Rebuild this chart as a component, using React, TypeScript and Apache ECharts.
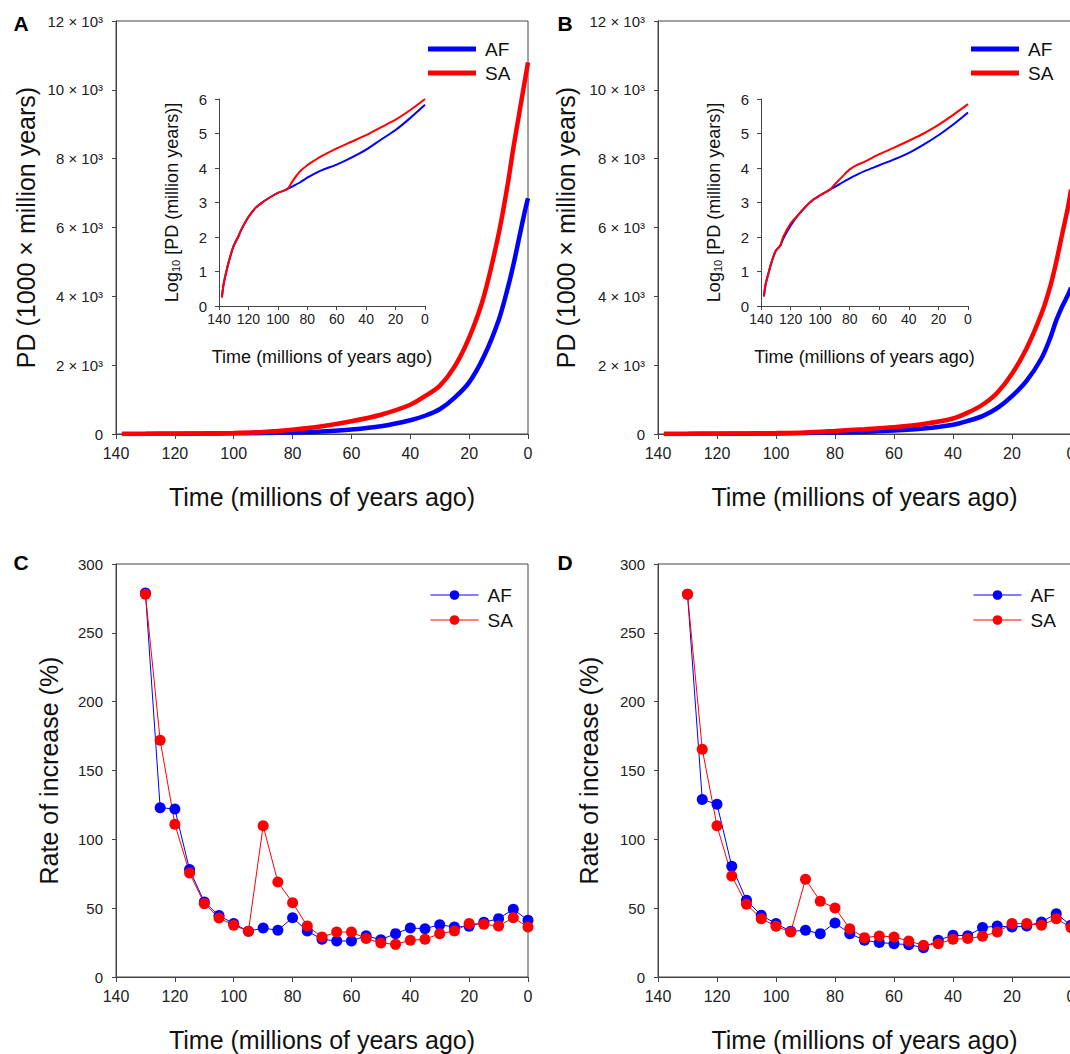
import React, { useEffect, useRef } from "react";
import * as echarts from "echarts";

// ---------- DATA ----------
// Panels A/B main: PD (1000 x million years) vs time (Ma)
const PD_TIME = [138, 130, 120, 110, 100, 90, 80, 70, 60, 50, 40, 35, 30, 25, 20, 15, 10, 7, 5, 3, 1, 0];
const PD_A_AF = [1, 3, 6, 12, 20, 28, 45, 75, 130, 225, 400, 530, 720, 1050, 1500, 2250, 3300, 4200, 4900, 5700, 6500, 6850];
const PD_A_SA = [2, 5, 10, 18, 30, 60, 125, 225, 370, 560, 850, 1100, 1400, 1950, 2800, 4000, 5800, 7200, 8300, 9300, 10300, 10800];
const PD_B_AF = [1, 3, 6, 10, 16, 28, 45, 65, 100, 160, 270, 380, 520, 750, 1100, 1550, 2200, 2800, 3300, 3700, 4050, 4250];
const PD_B_SA = [2, 4, 8, 15, 25, 45, 90, 140, 200, 290, 450, 620, 850, 1200, 1750, 2500, 3500, 4300, 5000, 5800, 6600, 7100];

// Insets: log10 PD (million years)
const LOG_TIME = [138, 137, 135, 133, 130, 127, 125, 120, 115, 110, 105, 100, 95, 93, 90, 85, 80, 75, 70, 60, 50, 40, 30, 20, 10, 0];
const LOG_A_AF = [0.25, 0.6, 1.0, 1.33, 1.75, 2.0, 2.2, 2.58, 2.85, 3.02, 3.16, 3.28, 3.36, 3.41, 3.47, 3.58, 3.72, 3.84, 3.94, 4.1, 4.3, 4.53, 4.82, 5.1, 5.45, 5.83];
const LOG_A_SA = [0.25, 0.6, 1.0, 1.35, 1.75, 2.0, 2.2, 2.58, 2.85, 3.02, 3.16, 3.28, 3.36, 3.41, 3.62, 3.9, 4.08, 4.22, 4.35, 4.57, 4.76, 4.95, 5.18, 5.4, 5.68, 6.0];
const LOG_B_AF = [0.28, 0.6, 0.94, 1.25, 1.6, 1.75, 1.95, 2.33, 2.63, 2.87, 3.07, 3.21, 3.33, 3.39, 3.45, 3.58, 3.7, 3.81, 3.91, 4.08, 4.25, 4.44, 4.68, 4.95, 5.26, 5.61];
const LOG_B_SA = [0.28, 0.6, 0.94, 1.25, 1.6, 1.75, 2.0, 2.39, 2.63, 2.87, 3.07, 3.21, 3.33, 3.39, 3.53, 3.75, 3.96, 4.09, 4.18, 4.4, 4.59, 4.79, 5.0, 5.25, 5.54, 5.85];

// Panels C/D: rate of increase (%)
const RATE_TIME = [130, 125, 120, 115, 110, 105, 100, 95, 90, 85, 80, 75, 70, 65, 60, 55, 50, 45, 40, 35, 30, 25, 20, 15, 10, 5, 0];
const RATE_C_AF = [279, 123, 122, 78, 54.5, 44.6, 38.8, 33.2, 35.6, 33.9, 43.1, 33.4, 27.4, 26.2, 26.2, 30, 27.1, 31.5, 35.6, 35.1, 38, 36.3, 36.8, 39.7, 42.4, 49.2, 41.2];
const RATE_C_SA = [278, 172, 111, 75.6, 53.3, 42.9, 37.6, 33.2, 109.8, 69, 54, 37, 29, 32.7, 32.7, 27.9, 24.7, 23.7, 26.7, 27.4, 31.5, 33.4, 38.8, 38.3, 37, 43.1, 36.3];
const RATE_D_AF = [278, 128.9, 125.5, 80.5, 55.7, 44.8, 38.8, 33.2, 33.9, 31.5, 39.3, 31.5, 26.7, 25, 24.2, 23.5, 21.3, 26.7, 30.3, 30, 35.9, 37, 36.3, 37, 40, 46, 37.5];
const RATE_D_SA = [278, 165.5, 109.8, 73.4, 52.8, 42.4, 36.8, 32.7, 71, 55, 50.2, 35.1, 28.6, 29.8, 29.1, 26.2, 23, 24.2, 27.4, 27.9, 29.6, 32.7, 38.8, 38.8, 37.6, 42.4, 35.9];

const SERIES_NAMES = ["AF", "SA"];
const PANEL_LETTERS = ["A", "B", "C", "D"];
const X_TITLE = "Time (millions of years ago)";
const PD_TITLE = "PD (1000 \u00d7 million years)";
const RATE_TITLE = "Rate of increase (%)";
const LOG_TITLE = "Log{sub|10} [PD (million years)]";

// ---------- STYLE ----------
const FONT = "'Liberation Sans', Arial, Helvetica, sans-serif";
const BLUE = "#0000ff";
const RED = "#ff0000";
const AXIS = "#444";
const TXT = "#222";

const pairs = (t: number[], v: number[]) => t.map((x, i) => [x, v[i]]);

function xAxisCfg(gridIndex: number, inset: boolean) {
  return {
    type: "value",
    gridIndex,
    min: 0,
    max: 140,
    interval: 20,
    inverse: true,
    name: X_TITLE,
    nameLocation: "middle",
    nameGap: inset ? 42 : 50,
    nameTextStyle: { fontFamily: FONT, fontSize: inset ? 18 : 25, color: "#111" },
    axisLine: { show: true, onZero: false, lineStyle: { color: AXIS, width: 1 } },
    axisTick: { show: true, inside: false, length: inset ? 4 : 5, lineStyle: { color: AXIS } },
    axisLabel: { fontFamily: FONT, fontSize: inset ? 14 : 16, color: TXT, margin: inset ? 6 : 11 },
    splitLine: { show: false },
  };
}

function yAxisCfg(gridIndex: number, kind: "pd" | "log" | "rate", nameGap: number) {
  const base: any = {
    type: "value",
    gridIndex,
    nameLocation: "middle",
    nameGap,
    nameRotate: 90,
    axisLine: { show: true, onZero: false, lineStyle: { color: AXIS, width: 1 } },
    axisTick: { show: true, inside: false, length: 4, lineStyle: { color: AXIS } },
    splitLine: { show: false },
  };
  if (kind === "pd") {
    return {
      ...base,
      min: 0,
      max: 12000,
      interval: 2000,
      name: PD_TITLE,
      nameTextStyle: { fontFamily: FONT, fontSize: 25, color: "#111" },
      axisLabel: {
        fontFamily: FONT,
        fontSize: 15,
        color: TXT,
        margin: 13,
        formatter: (v: number) => (v === 0 ? "0" : `${v / 1000} \u00d7 10\u00b3`),
      },
    };
  }
  if (kind === "log") {
    return {
      ...base,
      min: 0,
      max: 6,
      interval: 1,
      name: LOG_TITLE,
      nameTextStyle: {
        fontFamily: FONT,
        fontSize: 18,
        color: "#111",
        rich: { sub: { fontFamily: FONT, fontSize: 11, color: "#111", verticalAlign: "bottom", padding: [6, 0, 0, 0] } },
      },
      axisLabel: { fontFamily: FONT, fontSize: 15, color: TXT, margin: 12 },
    };
  }
  return {
    ...base,
    min: 0,
    max: 300,
    interval: 50,
    name: RATE_TITLE,
    nameTextStyle: { fontFamily: FONT, fontSize: 25, color: "#111" },
    axisLabel: { fontFamily: FONT, fontSize: 15, color: TXT, margin: 13 },
  };
}

function legendCfg(left: number, top: number, lineOnly: boolean) {
  const cfg: any = {
    orient: "vertical",
    left,
    top,
    padding: 0,
    itemWidth: 48,
    itemHeight: lineOnly ? 5 : 12,
    itemGap: lineOnly ? 5 : 6,
    selectedMode: false,
    data: SERIES_NAMES,
    textStyle: { fontFamily: FONT, fontSize: 19, color: "#111", padding: [0, 0, 0, 4] },
    lineStyle: { width: 1 },
  };
  if (lineOnly) cfg.icon = "rect";
  return cfg;
}

function rateSeries(name: string, color: string, xi: number, data: number[]) {
  return {
    type: "line",
    name,
    xAxisIndex: xi,
    yAxisIndex: xi,
    data: pairs(RATE_TIME, data),
    symbol: "circle",
    symbolSize: 11,
    showSymbol: true,
    lineStyle: { color, width: 1 },
    itemStyle: { color },
    clip: false,
    z: 3,
  };
}

function curveSeries(name: string, color: string, xi: number, t: number[], data: number[], width: number) {
  return {
    type: "line",
    name,
    xAxisIndex: xi,
    yAxisIndex: xi,
    data: pairs(t, data),
    symbol: "none",
    smooth: 0.3,
    lineStyle: { color, width },
    itemStyle: { color },
    z: 3,
  };
}

// Panel geometry (px)
const MAIN_W = 412;
const MAIN_H = 413;
const COL_X = [116, 658];
const ROW_Y = [21, 564];
const INSET_DX = 103;
const INSET_DY = 78;
const INSET_W = 206;
const INSET_H = 207;

export default function App() {
  const ref = useRef<HTMLDivElement>(null);

  useEffect(() => {
    if (!ref.current) return;
    const chart = echarts.init(ref.current, undefined, { renderer: "svg" });

    const g = (left: number, top: number, width: number, height: number, box: boolean) => ({
      left,
      top,
      width,
      height,
      show: box,
      borderColor: AXIS,
      borderWidth: 1,
      containLabel: false,
      outerBoundsMode: "none",
    });

    const grids = [
      // 0: A main, 1: A inset, 2: B main, 3: B inset, 4: C, 5: D
      g(COL_X[0], ROW_Y[0], MAIN_W, MAIN_H, true),
      g(COL_X[0] + INSET_DX, ROW_Y[0] + INSET_DY, INSET_W, INSET_H, false),
      g(COL_X[1], ROW_Y[0], MAIN_W + 1, MAIN_H, true),
      g(COL_X[1] + INSET_DX, ROW_Y[0] + INSET_DY, INSET_W + 1, INSET_H, false),
      g(COL_X[0], ROW_Y[1], MAIN_W, MAIN_H, true),
      g(COL_X[1], ROW_Y[1], MAIN_W + 1, MAIN_H, true),
    ];

    const xAxes = [
      xAxisCfg(0, false),
      xAxisCfg(1, true),
      xAxisCfg(2, false),
      xAxisCfg(3, true),
      xAxisCfg(4, false),
      xAxisCfg(5, false),
    ];
    const yAxes = [
      yAxisCfg(0, "pd", 78),
      yAxisCfg(1, "log", 38),
      yAxisCfg(2, "pd", 80),
      yAxisCfg(3, "log", 38),
      yAxisCfg(4, "rate", 55),
      yAxisCfg(5, "rate", 57),
    ];

    const series = [
      rateSeries("AF", BLUE, 4, RATE_C_AF),
      rateSeries("SA", RED, 4, RATE_C_SA),
      rateSeries("AF", BLUE, 5, RATE_D_AF),
      rateSeries("SA", RED, 5, RATE_D_SA),
      curveSeries("AF", BLUE, 0, PD_TIME, PD_A_AF, 4.5),
      curveSeries("SA", RED, 0, PD_TIME, PD_A_SA, 4.5),
      curveSeries("AF", BLUE, 1, LOG_TIME, LOG_A_AF, 2),
      curveSeries("SA", RED, 1, LOG_TIME, LOG_A_SA, 2),
      curveSeries("AF", BLUE, 2, PD_TIME, PD_B_AF, 4.5),
      curveSeries("SA", RED, 2, PD_TIME, PD_B_SA, 4.5),
      curveSeries("AF", BLUE, 3, LOG_TIME, LOG_B_AF, 2),
      curveSeries("SA", RED, 3, LOG_TIME, LOG_B_SA, 2),
    ];

    const legends = [
      legendCfg(COL_X[0] + 312, ROW_Y[0] + 18.5, true),
      legendCfg(COL_X[1] + 313, ROW_Y[0] + 18.5, true),
      legendCfg(COL_X[0] + 314, ROW_Y[1] + 21.5, false),
      legendCfg(COL_X[1] + 315, ROW_Y[1] + 21.5, false),
    ];

    const letterPos = [
      [21, 23],
      [565, 23],
      [21, 562],
      [565, 562],
    ];
    const graphic = PANEL_LETTERS.map((l, i) => ({
      type: "text",
      x: letterPos[i][0],
      y: letterPos[i][1],
      style: {
        text: l,
        fontFamily: FONT,
        fontSize: 21,
        fontWeight: "bold",
        fill: "#000",
        align: "center",
        verticalAlign: "middle",
      },
    }));

    chart.setOption({
      animation: false,
      backgroundColor: "#ffffff",
      textStyle: { fontFamily: FONT },
      grid: grids,
      xAxis: xAxes,
      yAxis: yAxes,
      legend: legends,
      series,
      graphic,
    });

    return () => chart.dispose();
  }, []);

  return (
    <div
      ref={ref}
      style={{ position: "fixed", left: 0, top: 0, width: 1070, height: 1054, background: "#fff" }}
    />
  );
}
